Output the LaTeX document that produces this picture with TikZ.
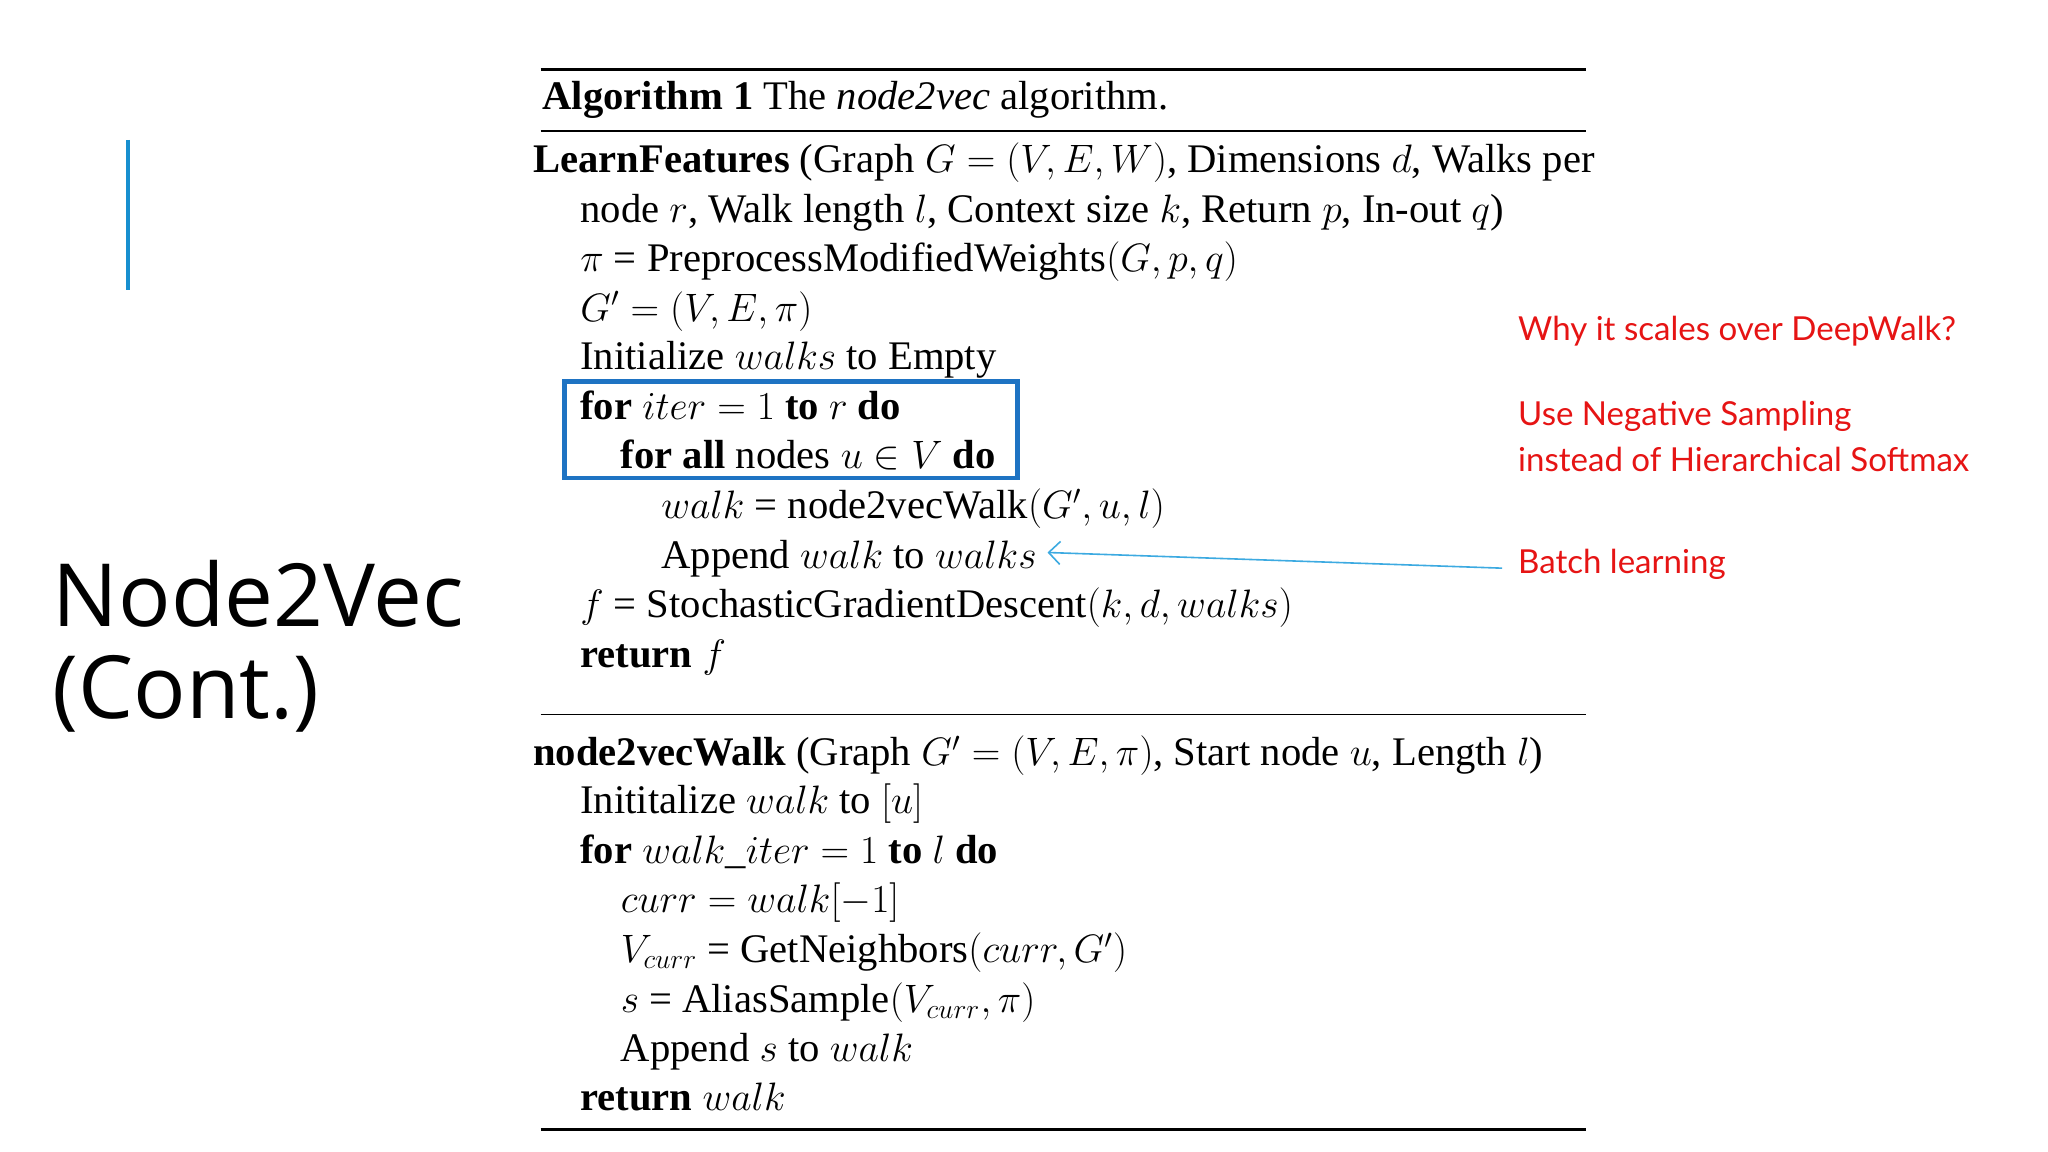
\documentclass[tikz,border=0pt]{standalone}
\usepackage{fontspec}
\setmainfont{Liberation Serif}
\newfontfamily\titlefont{Open Sans}
\newfontfamily\notefont{Lato}
\usetikzlibrary{arrows.meta}
\definecolor{redtxt}{RGB}{230,20,20}
\definecolor{bluebox}{RGB}{30,115,195}
\definecolor{arrblue}{RGB}{60,170,225}
\begin{document}
\begin{tikzpicture}[x=0.02cm,y=-0.02cm,
  alg/.style={anchor=base west,inner sep=0pt,font=\fontsize{17.7}{22}\selectfont},
  note/.style={anchor=base west,inner sep=0pt,text=redtxt,font=\notefont\fontsize{14.4}{17}\selectfont},
  rulethick/.style={line width=1.4pt},
  rulethin/.style={line width=0.8pt}]
\useasboundingbox[fill=white] (0,0) rectangle (1568,882);
\draw[bluebox!80!cyan,line width=1.5pt] (98,107) -- (98,222);
\node[anchor=base west,inner sep=0pt,font=\titlefont\fontsize{38}{44}\selectfont] (t1) at (40,480) {Node2Vec};
\node[anchor=base west,inner sep=0pt,font=\titlefont\fontsize{38}{44}\selectfont] (t2) at (40,550) {(Cont.)};
\draw[rulethick] (414,53) -- (1214,53);
\node[alg] (cap) at (415,84) {\textbf{Algorithm 1} The \textit{node2vec} algorithm.};
\draw[rulethin] (414,100) -- (1214,100);
\node[alg] (l1) at (408,132) {\textbf{LearnFeatures} (Graph $G=(V,E,W)$, Dimensions $d$, Walks per};
\node[alg] (l2) at (444,170) {node $r$, Walk length $l$, Context size $k$, Return $p$, In-out $q$)};
\node[alg] (l3) at (444,208) {$\pi$ = PreprocessModifiedWeights$(G,p,q)$};
\node[alg] (l4) at (444,246) {$G'=(V,E,\pi)$};
\node[alg] (l5) at (444,283) {Initialize $walks$ to Empty};
\node[alg] (l6) at (444,321) {\textbf{for} $iter=1$ \textbf{to} $r$ \textbf{do}};
\node[alg] (l7) at (475,359) {\textbf{for all} nodes $u\in V$ \textbf{do}};
\node[alg] (l8) at (506,397) {$walk$ = node2vecWalk$(G',u,l)$};
\node[alg] (l9) at (506,435) {Append $walk$ to $walks$};
\node[alg] (l10) at (444,473) {$f$ = StochasticGradientDescent$(k,d,walks)$};
\node[alg] (l11) at (444,511) {\textbf{return} $f$};
\draw[bluebox,line width=2pt] (432,292) rectangle (779,366);
\draw[rulethin] (414,547) -- (1214,547);
\node[alg] (m1) at (408,586) {\textbf{node2vecWalk} (Graph $G'=(V,E,\pi)$, Start node $u$, Length $l$)};
\node[alg] (m2) at (444,623) {Inititalize $walk$ to $[u]$};
\node[alg] (m3) at (444,661) {\textbf{for} $walk\_iter=1$ \textbf{to} $l$ \textbf{do}};
\node[alg] (m4) at (475,699) {$curr=walk[-1]$};
\node[alg] (m5) at (475,737) {$V_{curr}$ = GetNeighbors$(curr,G')$};
\node[alg] (m6) at (475,775) {$s$ = AliasSample$(V_{curr},\pi)$};
\node[alg] (m7) at (475,813) {Append $s$ to $walk$};
\node[alg] (m8) at (444,850) {\textbf{return} $walk$};
\draw[rulethick] (414,865) -- (1214,865);
\node[note] (n1) at (1162,261) {Why it scales over DeepWalk?};
\node[note] (n2) at (1162,326) {Use Negative Sampling};
\node[note] (n3) at (1162,361) {instead of Hierarchical Softmax};
\node[note] (n4) at (1162,439) {Batch learning};
\coordinate (a0) at (1150,435);
\coordinate (a1) at (802,423);
\draw[arrblue,line width=0.7pt,-{Straight Barb[length=5pt]}] (a0) -- (a1);
\end{tikzpicture}
\end{document}
